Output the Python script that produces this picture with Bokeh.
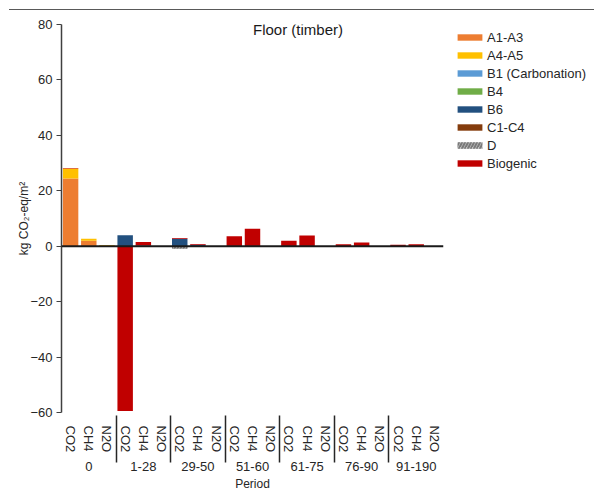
from bokeh.plotting import figure
from bokeh.models import FactorRange, Span, Label, Legend, LegendItem, Div, FixedTicker
from bokeh.layouts import column
from bokeh.embed import file_html
from bokeh.resources import INLINE

periods = ["0", "1-28", "29-50", "51-60", "61-75", "76-90", "91-190"]
gases = ["CO2", "CH4", "N2O"]
y_ticks = [-60, -40, -20, 0, 20, 40, 60, 80]

# values per (period, gas), period-major order
a1_a3 = [24.4, 2.0, 0.2, 0, 0, 0, 0, 0, 0, 0, 0, 0, 0, 0, 0, 0, 0, 0, 0, 0, 0]
a4_a5 = [3.6, 0.7, 0.2, 0, 0, 0, 0, 0, 0, 0, 0, 0, 0, 0, 0, 0, 0, 0, 0, 0, 0]
b1 = [0, 0, 0, 0, 0, 0, 0, 0, 0, 0, 0, 0, 0, 0, 0, 0, 0, 0, 0, 0, 0]
b4 = [0, 0, 0, 0, 0, 0, 0, 0, 0, 0, 0, 0, 0, 0, 0, 0, 0, 0, 0, 0, 0]
b6 = [0, 0, 0, 4.0, 0.3, 0, 2.7, 0.5, 0, 0, 0, 0, 0, 0, 0, 0, 0, 0, 0, 0, 0]
c1_c4 = [0, 0, 0, 0, 0, 0, 0, 0, 0, 0, 0, 0, 0, 0, 0, 0, 0, 0, 0, 0, 0]
d = [0, 0, 0, 0, 0, 0, -0.9, 0, 0, 0, 0, 0, 0, 0, 0, 0, 0, 0, 0, 0, 0]
biogenic = [0.2, 0, 0, -59.5, 1.2, 0, 0.3, 0.3, 0, 3.6, 6.3, 0, 2.0, 3.9, 0, 0.7, 1.3, 0, 0.5, 0.7, 0]

series_names = ["A1-A3", "A4-A5", "B1 (Carbonation)", "B4", "B6", "C1-C4", "D", "Biogenic"]
series_values = [a1_a3, a4_a5, b1, b4, b6, c1_c4, d, biogenic]
series_colors = ["#ED7D31", "#FFC000", "#5B9BD5", "#70AD47", "#22507F", "#843C0C", "#BFBFBF", "#C00000"]

factors = [(pr, g) for pr in periods for g in gases]

FONT = "Liberation Sans"
TXT = "#262626"

p = figure(
    x_range=FactorRange(*factors, group_padding=0, factor_padding=0, range_padding=0),
    y_range=(-60, 80),
    frame_width=382, frame_height=388,
    min_border_left=61, min_border_right=146, min_border_top=14, min_border_bottom=73,
    output_backend="svg", toolbar_location=None,
)
p.outline_line_color = None
p.xgrid.visible = False
p.ygrid.visible = False
p.background_fill_color = "white"
p.border_fill_color = "white"

pos = [0.0] * len(factors)
neg = [0.0] * len(factors)
items = []
for name, vals, color in zip(series_names, series_values, series_colors):
    bottoms, tops = [], []
    for i, v in enumerate(vals):
        if v >= 0:
            b = pos[i]; t = b + v; pos[i] = t
        else:
            b = neg[i]; t = b + v; neg[i] = t
        bottoms.append(b); tops.append(t)
    kw = {}
    if name == "D":
        kw = dict(hatch_pattern="/", hatch_color="#7A7A7A", hatch_scale=6, hatch_weight=2)
    r = p.vbar(x=factors, bottom=bottoms, top=tops, width=0.85,
               fill_color=color, line_color=None, **kw)
    items.append(LegendItem(label=name, renderers=[r]))

p.add_layout(Span(location=0, dimension="width", line_color="#1a1a1a", line_width=2))

p.add_layout(Label(x=13.0, y=80, y_offset=-5, text="Floor (timber)", text_align="center",
                   text_baseline="middle", text_font=FONT, text_font_size="15px",
                   text_color="#1a1a1a"))

# y axis
p.yaxis.ticker = FixedTicker(ticks=y_ticks)
p.yaxis.axis_label = "kg CO\u2082-eq/m\u00b2"
p.yaxis.axis_label_text_font = FONT
p.yaxis.axis_label_text_font_size = "12px"
p.yaxis.axis_label_text_font_style = "normal"
p.yaxis.axis_label_text_color = TXT
p.yaxis.axis_label_standoff = -4
p.yaxis.major_label_text_font = FONT
p.yaxis.major_label_text_font_size = "13px"
p.yaxis.major_label_text_color = TXT
p.yaxis.axis_line_color = "#404040"
p.yaxis.axis_line_width = 1.5
p.yaxis.major_tick_line_color = "#404040"
p.yaxis.major_tick_out = 5
p.yaxis.major_tick_in = 0
p.yaxis.minor_tick_line_color = None
p.yaxis.major_label_standoff = 4

# x axis
p.xaxis.axis_label = "Period"
p.xaxis.axis_label_text_font = FONT
p.xaxis.axis_label_text_font_size = "12px"
p.xaxis.axis_label_text_font_style = "normal"
p.xaxis.axis_label_text_color = TXT
p.xaxis.axis_label_standoff = 3
p.xaxis.axis_line_color = None
p.xaxis.major_tick_line_color = None
p.xaxis.minor_tick_line_color = None
p.xaxis.major_label_orientation = "vertical"
p.xaxis.major_label_text_font = FONT
p.xaxis.major_label_text_font_size = "13px"
p.xaxis.major_label_text_color = TXT
p.xaxis.major_label_standoff = 7
p.xaxis.group_text_font = FONT
p.xaxis.group_text_font_size = "13px"
p.xaxis.group_text_font_style = "normal"
p.xaxis.group_text_color = TXT
p.xaxis.separator_line_color = "#262626"
p.xaxis.separator_line_width = 1.5

legend = Legend(items=items, location=(11, 240), orientation="vertical",
                border_line_color=None, background_fill_alpha=0,
                glyph_width=31, glyph_height=8, label_height=18, spacing=0,
                label_standoff=2, padding=0, margin=0,
                label_text_font=FONT, label_text_font_size="13px",
                label_text_color=TXT)
p.add_layout(legend, "right")

top_rule = Div(text="", width=585, height=1, margin=(9, 0, 0, 9),
               styles={"background-color": "#595959"})

layout = column(top_rule, p)
open("out.html", "w").write(file_html(layout, INLINE))
